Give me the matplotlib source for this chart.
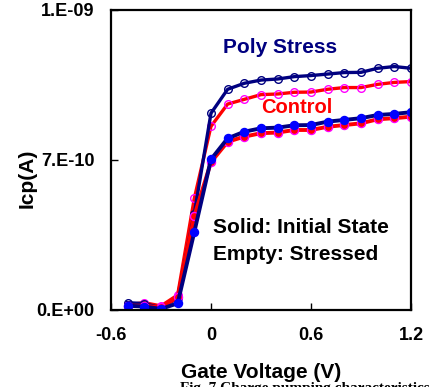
import numpy as np
import matplotlib
matplotlib.use("Agg")
import matplotlib.pyplot as plt

plt.rcParams['font.family'] = ['Liberation Sans', 'DejaVu Sans']
plt.rcParams['font.weight'] = 'bold'

# gate voltage (V)
vg = [-0.5, -0.4, -0.3, -0.2, -0.1, 0.0, 0.1, 0.2, 0.3, 0.4, 0.5, 0.6,
      0.7, 0.8, 0.9, 1.0, 1.1, 1.2]

# Icp in units of 1e-10 A
poly_stressed = [0.34, 0.30, 0.10, 0.55, 4.5, 9.18, 10.30, 10.58, 10.73, 10.78,
                 10.89, 10.94, 11.01, 11.08, 11.09, 11.28, 11.36, 11.28]
control_stressed = [0.25, 0.34, 0.19, 0.70, 5.21, 8.57, 9.61, 9.83, 10.05, 10.08,
                    10.16, 10.17, 10.30, 10.38, 10.38, 10.53, 10.62, 10.66]
poly_initial = [0.20, 0.16, 0.05, 0.31, 3.64, 7.03, 8.01, 8.32, 8.48, 8.51,
                8.62, 8.63, 8.79, 8.87, 8.95, 9.10, 9.15, 9.23]
control_initial = [0.20, 0.20, 0.12, 0.59, 4.39, 6.90, 7.85, 8.09, 8.25, 8.28,
                   8.40, 8.40, 8.55, 8.63, 8.71, 8.90, 8.95, 9.02]

y_ticks = [0, 7e-10, 1.4e-9]
y_labels = ['0.E+00', '7.E-10', '1.E-09']
x_ticks = [-0.6, 0, 0.6, 1.2]
x_labels = ['-0.6', '0', '0.6', '1.2']

scale = 1e-10
fig = plt.figure(figsize=(4.32, 3.87), dpi=100)
ax = fig.add_axes([0.2569, 0.199, 0.6944, 0.7752])

ax.plot(vg, np.array(control_stressed) * scale, color='#FF0000', lw=2.4,
        marker='o', ms=5.5, mfc='none', mec='#FF00FF', mew=1.0)
ax.plot(vg, np.array(poly_stressed) * scale, color='#000080', lw=2.4,
        marker='o', ms=5.5, mfc='none', mec='#000080', mew=1.0)
ax.plot(vg, np.array(control_initial) * scale, color='#FF0000', lw=2.8,
        marker='o', ms=5.8, mfc='#FF0000', mec='#FF00FF', mew=1.0)
ax.plot(vg, np.array(poly_initial) * scale, color='#000080', lw=2.8,
        marker='o', ms=5.8, mfc='#0000FF', mec='#0000FF', mew=1.0)

ax.set_xlim(-0.6, 1.2)
ax.set_ylim(0, 1.4e-9)
ax.set_xticks(x_ticks)
ax.set_xticklabels(x_labels)
ax.set_yticks(y_ticks)
ax.set_yticklabels(y_labels)
ax.tick_params(direction='in', length=5, width=1, labelsize=13)
ax.tick_params(axis='x', pad=12)
ax.tick_params(axis='y', pad=12)
for s in ax.spines.values():
    s.set_linewidth(1.6)

ax.set_xlabel('Gate Voltage (V)', fontsize=15, fontweight='bold')
ax.xaxis.set_label_coords(0.5, -0.21)
ax.xaxis.label.set_va('center')
ax.set_ylabel('Icp(A)', fontsize=15, fontweight='bold')
ax.yaxis.set_label_coords(-0.28, 0.44)
ax.yaxis.label.set_va('center')

ax.text(0.414, 12.27e-10, 'Poly Stress', color='#000080', fontsize=15,
        fontweight='bold', ha='center', va='center')
ax.text(0.516, 9.47e-10, 'Control', color='#FF0000', fontsize=14.5,
        fontweight='bold', ha='center', va='center')
ax.text(0.012, 3.83e-10, 'Solid: Initial State', color='black', fontsize=15,
        fontweight='bold', ha='left', va='center')
ax.text(0.012, 2.57e-10, 'Empty: Stressed', color='black', fontsize=15,
        fontweight='bold', ha='left', va='center')

# caption of the source figure, cut by the lower edge as in the original
fig.text(180 / 432, 1 - 382 / 387, 'Fig. 7 Charge pumping characteristics',
         family='Liberation Serif', fontsize=11, fontweight='bold',
         ha='left', va='top')

fig.savefig('out.png', dpi=100)
